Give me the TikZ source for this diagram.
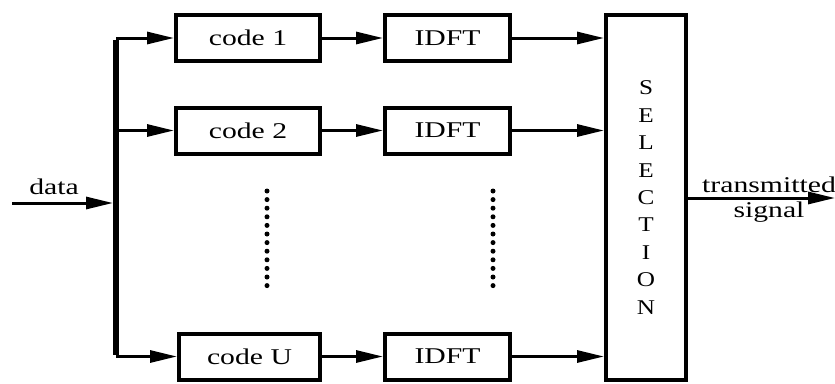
\documentclass[tikz,border=0pt]{standalone}
\usepackage{fontspec}
\setmainfont{Liberation Serif}
\usetikzlibrary{arrows.meta}
\newcommand{\widetext}[1]{\scalebox{1.32}[1]{#1}}
\newcommand{\selletter}[1]{\scalebox{1.2}[1]{#1}}
\begin{document}
\begin{tikzpicture}[x=1pt,y=-1pt,
  box/.style={draw, line width=4pt, minimum width=#1, minimum height=46pt,
    inner sep=0pt, font=\fontsize{22.5}{26}\selectfont},
  conn/.style={line width=3pt, -{Triangle[length=27pt,width=12pt]}},
  lbl/.style={inner sep=0pt, anchor=base, font=\fontsize{22.5}{26}\selectfont},
  dotmark/.style={fill=black}]
\useasboundingbox (0,0) rectangle (835,383);
% boxes
\node[box=144pt] (c1) at (248,38) {\widetext{code 1}};
\node[box=144pt] (c2) at (248,130.5) {\widetext{code 2}};
\node[box=141pt] (cu) at (249.5,356.5) {\widetext{code U}};
\node[box=125pt] (d1) at (447.5,38) {\widetext{IDFT}};
\node[box=125pt] (d2) at (447.5,130.5) {\widetext{IDFT}};
\node[box=125pt] (du) at (447.5,356.5) {\widetext{IDFT}};
\node[draw, line width=4pt, minimum width=80pt, minimum height=365pt, inner sep=0pt,
  align=center, font=\fontsize{21}{27.4}\selectfont] (sel) at (646,197.5)
  {\selletter{S}\\\selletter{E}\\\selletter{L}\\\selletter{E}\\\selletter{C}\\\selletter{T}\\\selletter{I}\\\selletter{O}\\\selletter{N}};
% bus
\coordinate (bt) at (116,38);
\coordinate (bm) at (116,130.5);
\coordinate (bj) at (116,203);
\coordinate (bb) at (116,356.5);
\coordinate (din) at (12,203);
\coordinate (out) at (835,198);
\draw[line width=6pt] ([yshift=-1.5pt]bt) -- ([yshift=1.5pt]bb);
\draw[conn, shorten >=3pt] (din) -- (bj);
\draw[conn] (bt) -- (c1.west);
\draw[conn] (bm) -- (c2.west);
\draw[conn] (bb) -- (cu.west);
\draw[conn] (c1) -- (d1);
\draw[conn] (c2) -- (d2);
\draw[conn] (cu) -- (du);
\draw[conn] (d1.east) -- (d1.east -| sel.west);
\draw[conn] (d2.east) -- (d2.east -| sel.west);
\draw[conn] (du.east) -- (du.east -| sel.west);
\draw[conn] (sel.east |- out) -- (out);
% labels
\node[lbl] (ldata) at (54,194) {\widetext{data}};
\node[lbl, anchor=base west] (ltx) at (702,192) {\widetext{transmitted}};
\node[lbl] (lsig) at (769,217) {\widetext{signal}};
% dots
\foreach \k in {0,...,11} {
  \fill[dotmark] (267,191+8.6*\k) circle (2.5pt);
  \fill[dotmark] (493,191+8.6*\k) circle (2.5pt);
}
\end{tikzpicture}
\end{document}
